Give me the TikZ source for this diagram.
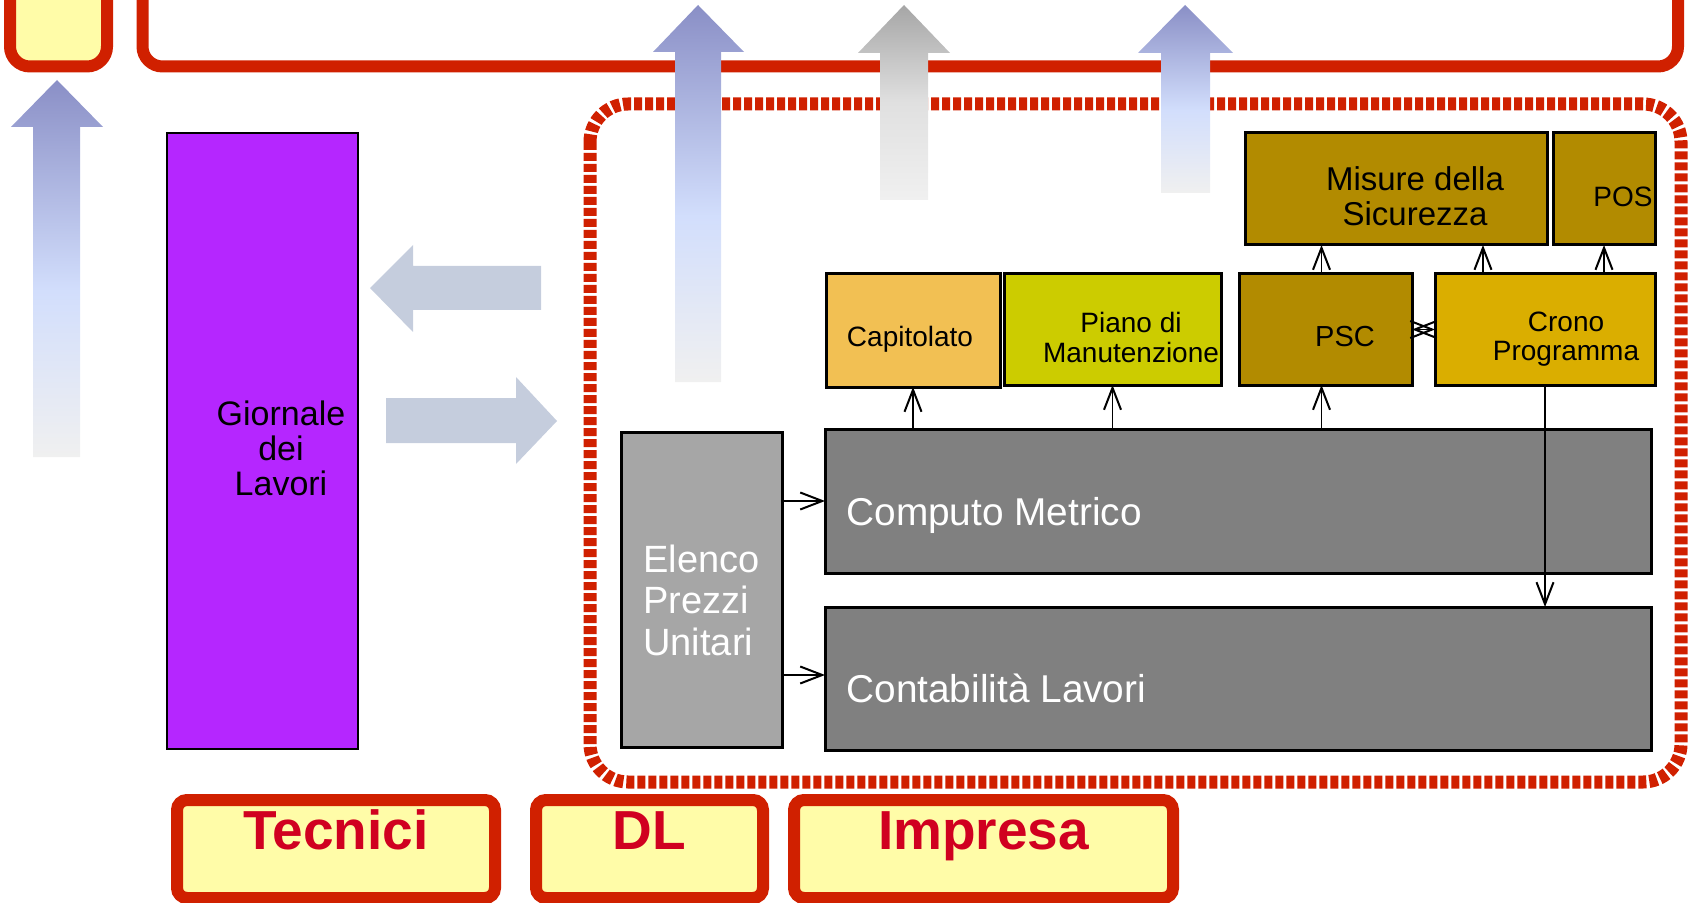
\documentclass[tikz,border=0pt]{standalone}
\usepackage{fontspec}
\setmainfont{Liberation Sans}
\usetikzlibrary{arrows.meta,calc}
\definecolor{redline}{RGB}{208,32,0}
\definecolor{labyellow}{RGB}{255,252,168}
\definecolor{labred}{RGB}{208,0,32}
\definecolor{purplebox}{RGB}{181,38,255}
\definecolor{elencogray}{RGB}{166,166,166}
\definecolor{darkgraybox}{RGB}{128,128,128}
\definecolor{capcol}{RGB}{242,192,83}
\definecolor{pianocol}{RGB}{204,204,0}
\definecolor{psccol}{RGB}{178,139,0}
\definecolor{cronocol}{RGB}{218,174,0}
\definecolor{flatarrow}{RGB}{197,205,221}
\definecolor{atop}{RGB}{138,143,198}
\definecolor{alight}{RGB}{210,222,252}
\definecolor{agray}{RGB}{240,240,240}
\definecolor{gtop}{RGB}{166,166,166}
\definecolor{gmid}{RGB}{224,224,224}
\pgfdeclareverticalshading{bluearr}{100bp}{color(0bp)=(agray); color(25bp)=(agray); color(47bp)=(alight); color(75bp)=(atop); color(100bp)=(atop)}
\pgfdeclareverticalshading{grayarr}{100bp}{color(0bp)=(agray); color(25bp)=(agray); color(50bp)=(gmid); color(75bp)=(gtop); color(100bp)=(gtop)}
\begin{document}
\begin{tikzpicture}[x=0.5pt,y=-0.5pt,
  box/.style={draw=black, line width=1.5pt, inner sep=0pt, outer sep=0pt},
  conn/.style={line width=0.8pt, -{Straight Barb[length=11pt,width=8.5pt,line width=1pt]}},
  lab/.style={draw=redline, fill=labyellow, line width=6pt, rounded corners=5pt, text=labred,
    font=\bfseries\fontsize{27.5pt}{30pt}\selectfont, inner xsep=0pt, inner ysep=0pt,
    text height=24.5pt, text depth=24.5pt, minimum height=49pt, outer sep=0pt},
  redframe/.style={draw=redline, line width=6pt, rounded corners=10pt},
  txt/.style={inner sep=0pt}
]
\clip (0,0) rectangle (1695,903);
% top red frames
\draw[redframe, fill=labyellow] (10,-60) rectangle (107,66.5);
\draw[redframe] (142.5,-60) rectangle (1678,66.5);
% dashed red frame
\draw[draw=redline, line width=6.5pt, rounded corners=19pt, dash pattern=on 4pt off 1.5pt] (590,104) rectangle (1681,782);
% gradient up arrows
\shade[shading=bluearr] (33,457) -- (33,127) -- (11,127) -- (57,80) -- (103,127) -- (80,127) -- (80,457) -- cycle;
\shade[shading=bluearr] (675,382) -- (675,52) -- (653,52) -- (698,5) -- (744,52) -- (721,52) -- (721,382) -- cycle;
\shade[shading=grayarr] (880,200) -- (880,53) -- (858,53) -- (904,5) -- (950,53) -- (928,53) -- (928,200) -- cycle;
\shade[shading=bluearr] (1161,193) -- (1161,53) -- (1138,53) -- (1185,5) -- (1233,53) -- (1210,53) -- (1210,193) -- cycle;
% flat horizontal arrows
\fill[flatarrow] (541,266) -- (413,266) -- (413,245) -- (370,288) -- (413,332) -- (413,310) -- (541,310) -- cycle;
\fill[flatarrow] (386,398) -- (516,398) -- (516,377) -- (557,421) -- (516,464) -- (516,443) -- (386,443) -- cycle;
% boxes
\node[box, line width=1.25pt, fill=purplebox, minimum width=95.5pt, minimum height=308pt] (giornale) at (262.5,441) {};
\node[txt, align=center, font=\fontsize{17pt}{17.5pt}\selectfont] (giornaletxt) at (281,448) {Giornale\\dei\\Lavori};
\node[box, fill=elencogray, minimum width=80.5pt, minimum height=157.5pt] (elenco) at (701.5,589.5) {};
\node[txt, anchor=west, align=left, text=white, font=\fontsize{19pt}{20.75pt}\selectfont] (elencotxt) at (643,600) {Elenco\\Prezzi\\Unitari};
\node[box, fill=darkgraybox, minimum width=413pt, minimum height=72pt] (computo) at (1238,501) {};
\node[txt, anchor=base west, text=white, font=\fontsize{19.4pt}{21pt}\selectfont] (computotxt) at (846,525) {Computo Metrico};
\node[box, fill=darkgraybox, minimum width=413pt, minimum height=71.5pt] (contab) at (1238,678.5) {};
\node[txt, anchor=base west, text=white, font=\fontsize{19.4pt}{21pt}\selectfont] (contabtxt) at (846,702) {Contabilità Lavori};
\node[box, fill=capcol, minimum width=87pt, minimum height=56.5pt] (cap) at (913,330.5) {};
\node[txt, anchor=base, font=\fontsize{14pt}{15pt}\selectfont] (captxt) at (910,347) {Capitolato};
\node[box, fill=pianocol, minimum width=108.5pt, minimum height=55.5pt] (piano) at (1112.5,329.5) {};
\node[txt, align=center, font=\fontsize{14pt}{15pt}\selectfont] (pianotxt) at (1131,337) {Piano di\\Manutenzione};
\node[box, fill=psccol, minimum width=86.5pt, minimum height=55.5pt] (psc) at (1325.5,329.5) {};
\node[txt, anchor=base, font=\fontsize{14.5pt}{15pt}\selectfont] (psctxt) at (1345,347) {PSC};
\node[box, fill=cronocol, minimum width=110pt, minimum height=55.5pt] (crono) at (1545,329.5) {};
\node[txt, align=center, font=\fontsize{14pt}{14.5pt}\selectfont] (cronotxt) at (1566,339.5) {Crono\\Programma};
\node[box, fill=psccol, minimum width=151pt, minimum height=56pt] (misure) at (1396,189) {};
\node[txt, align=center, font=\fontsize{16.5pt}{17.5pt}\selectfont] (misuretxt) at (1415,196.7) {Misure della\\Sicurezza};
\node[box, fill=psccol, minimum width=51pt, minimum height=56pt] (pos) at (1604,189) {};
\node[txt, anchor=base, font=\fontsize{14pt}{15pt}\selectfont] (postxt) at (1623,207) {POS};
% connectors
\coordinate (cronotop) at ($(crono.north west)!0.218!(crono.north east)$);
\draw[conn] (cap.south |- computo.north) -- (cap.south);
\draw[conn] (piano.south |- computo.north) -- (piano.south);
\draw[conn] ([xshift=-2pt]psc.south |- computo.north) -- ([xshift=-2pt]psc.south);
\draw[conn] ([xshift=-2pt]psc.north) -- ([xshift=-2pt]psc.north |- misure.south);
\draw[conn] (cronotop) -- (cronotop |- misure.south);
\draw[conn] (pos.south |- crono.north) -- (pos.south);
\draw[conn] (crono.south) -- (crono.south |- contab.north);
\draw[conn, {Straight Barb[length=11pt,width=8.5pt,line width=1pt]}-{Straight Barb[length=11pt,width=8.5pt,line width=1pt]}] (psc.east) -- (crono.west);
\draw[conn] (elenco.east |- computo.west) -- (computo.west);
\draw[conn] (elenco.east |- 0,675) -- (contab.west |- 0,675);
% bottom labels
\node[lab, minimum width=159pt] (tecnici) at (336,849) {Tecnici};
\node[lab, minimum width=113.5pt] (dl) at (649.5,849) {DL};
\node[lab, minimum width=189.5pt] (impresa) at (983.5,849) {Impresa};
\end{tikzpicture}
\end{document}
